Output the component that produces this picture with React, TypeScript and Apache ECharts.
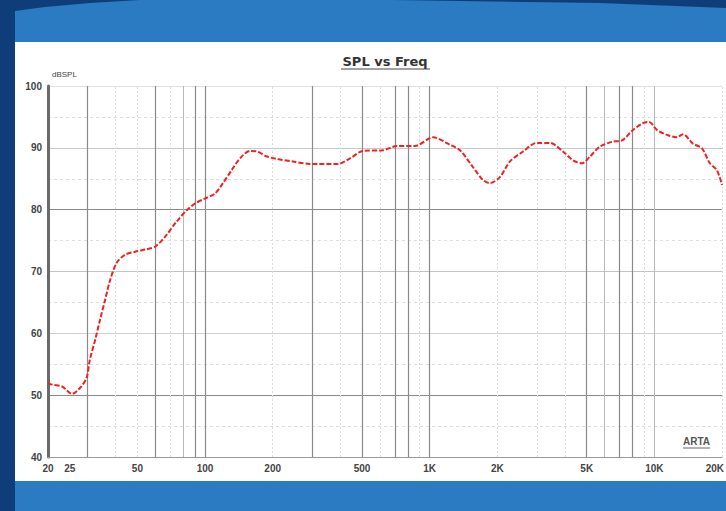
import React, { useEffect, useRef } from "react";
import * as echarts from "echarts";

const freqHz = [20, 20.8, 23.1, 25.6, 27.8, 29.7, 30.7, 32.4, 34.1, 35.9, 37.8, 40.4, 44, 48.8, 55, 59.9, 66.3, 74.8, 82.9, 90.2, 99.9, 110.7, 120.2, 131.4, 143.1, 158.5, 170.3, 188.6, 209, 246, 293, 390, 442, 505, 619, 715, 859, 1034, 1231, 1364, 1557, 1726, 1854, 2056, 2277, 2601, 3000, 3429, 3918, 4339, 4765, 5167, 5726, 6536, 7178, 8032, 8893, 9460, 10260, 11370, 12600, 13400, 14830, 16290, 17670, 18980, 20000];
const splDb = [52.0, 51.7, 51.4, 50.2, 51.2, 52.8, 55.7, 58.9, 62.2, 65.4, 68.6, 71.4, 72.7, 73.2, 73.6, 74.0, 75.6, 78.1, 79.9, 81.0, 81.8, 82.6, 84.3, 86.4, 88.3, 89.5, 89.4, 88.6, 88.2, 87.8, 87.4, 87.4, 88.3, 89.5, 89.6, 90.3, 90.3, 91.7, 90.5, 89.6, 86.9, 84.8, 84.3, 85.3, 87.8, 89.4, 90.8, 90.8, 89.4, 88.0, 87.5, 88.6, 90.2, 91.0, 91.2, 92.9, 94.0, 94.2, 92.9, 92.1, 91.7, 92.2, 90.7, 89.9, 87.5, 86.4, 84.0];

const xTickValues = [20, 25, 50, 100, 200, 500, 1000, 2000, 5000, 10000, 20000];
const xTickLabels = ["20", "25", "50", "100", "200", "500", "1K", "2K", "5K", "10K", "20K"];

const darkGridFreqs = [30, 60, 90, 100, 300, 500, 700, 800, 1000, 5000, 7000, 8000];
const mediumGridFreqs = [80, 6000, 10000];
const lightGridFreqs = [40, 50, 70, 200, 400, 600, 900, 2000, 3000, 4000, 9000, 20000];

const yMin = 40;
const yMax = 100;
const yStep = 10;

const chartTitle = "SPL vs Freq";
const yUnit = "dBSPL";
const stampText = "ARTA";

export default function App() {
  const ref = useRef<HTMLDivElement>(null);
  useEffect(() => {
    if (!ref.current) return;
    const chart = echarts.init(ref.current, undefined, { renderer: "svg" });

    const gridLines: any[] = [];
    darkGridFreqs.forEach((f) =>
      gridLines.push({ xAxis: f, lineStyle: { color: "#8a8a8a", width: 1.2, type: "solid" }, label: { show: false } })
    );
    mediumGridFreqs.forEach((f) =>
      gridLines.push({ xAxis: f, lineStyle: { color: "#b8b8b8", width: 1, type: "solid" }, label: { show: false } })
    );
    lightGridFreqs.forEach((f) =>
      gridLines.push({ xAxis: f, lineStyle: { color: "#dcdcdc", width: 1, type: [2, 2] }, label: { show: false } })
    );
    const lastIdx = xTickValues.length - 1;
    const tickLines = xTickValues.map((v, i) => ({
      xAxis: v,
      lineStyle: { color: "rgba(0,0,0,0)", width: 0 },
      label: {
        show: true,
        position: "start",
        formatter: xTickLabels[i],
        distance: 6,
        color: "#444",
        fontSize: 10,
        fontWeight: "bold",
        fontFamily: "Liberation Sans, Arial, sans-serif",
        ...(i === lastIdx ? { align: "right", offset: [2, 0] } : {}),
      },
    }));

    chart.setOption({
      animation: false,
      backgroundColor: "#0f3d7a",
      graphic: [
        { type: "rect", shape: { x: 15, y: 0, width: 711, height: 42 }, style: { fill: "#2a7bc1" }, z: -10 },
        { type: "polygon", shape: { points: [[0, 0], [140, 0], [90, 3], [45, 7], [15, 11], [0, 12]] }, style: { fill: "#0f3d7a" }, z: -9 },
        { type: "polygon", shape: { points: [[393, 0], [726, 0], [726, 8], [600, 3]] }, style: { fill: "#0f3d7a" }, z: -9 },
        { type: "rect", shape: { x: 15, y: 42, width: 711, height: 439 }, style: { fill: "#ffffff" }, z: -10 },
        { type: "rect", shape: { x: 15, y: 481, width: 711, height: 30 }, style: { fill: "#2a7bc1" }, z: -10 },
        {
          type: "text",
          x: 385,
          y: 55,
          style: { text: chartTitle, fill: "#333", font: "bold 13px DejaVu Sans, sans-serif", textAlign: "center" },
          z: 10,
        },
        { type: "line", shape: { x1: 341, y1: 69, x2: 430, y2: 69 }, style: { stroke: "#444", lineWidth: 1 }, z: 10 },
        {
          type: "text",
          x: 683,
          y: 436,
          style: { text: stampText, fill: "#555", font: "bold 10px Liberation Sans, sans-serif" },
          z: 10,
        },
        { type: "line", shape: { x1: 683, y1: 448, x2: 710, y2: 448 }, style: { stroke: "#666", lineWidth: 1 }, z: 10 },
      ],
      grid: { left: 48, right: 4, top: 86, bottom: 54, containLabel: false },
      xAxis: {
        type: "log",
        logBase: 10,
        min: 20,
        max: 20000,
        axisLabel: { show: false },
        axisTick: { show: false },
        splitLine: { show: false },
        axisLine: { show: true, lineStyle: { color: "#999", width: 1 } },
      },
      yAxis: {
        type: "value",
        min: yMin,
        max: yMax,
        interval: yStep,
        name: yUnit,
        nameLocation: "end",
        nameGap: 8,
        nameTextStyle: { align: "left", fontSize: 8, color: "#444", padding: [0, 0, 0, 4] },
        axisLine: { show: true, lineStyle: { color: "#6a6a6a", width: 3 } },
        axisTick: { show: false },
        axisLabel: {
          color: "#444",
          fontSize: 10,
          fontWeight: "bold",
          margin: 6,
          fontFamily: "Liberation Sans, Arial, sans-serif",
        },
        splitLine: {
          show: true,
          lineStyle: { color: ["#999", "#8a8a8a", "#d0d0d0", "#c4c4c4", "#8a8a8a", "#c8c8c8", "#e0e0e0"], width: 1 },
        },
        minorTick: { show: false, splitNumber: 2 },
        minorSplitLine: { show: true, lineStyle: { color: "#dedede", type: [3, 3], width: 1 } },
      },
      series: [
        {
          type: "line",
          data: [],
          z: 1,
          silent: true,
          markLine: {
            silent: true,
            symbol: "none",
            animation: false,
            data: [...gridLines, ...tickLines],
          },
        },
        {
          type: "line",
          z: 5,
          data: freqHz.map((f, i) => [f, splDb[i]]),
          showSymbol: false,
          smooth: 0.3,
          lineStyle: { color: "#ee2222", width: 2, type: [5, 2] },
        },
      ],
    });
    return () => chart.dispose();
  }, []);
  return <div ref={ref} style={{ width: 726, height: 511, position: "absolute", left: 0, top: 0 }} />;
}
